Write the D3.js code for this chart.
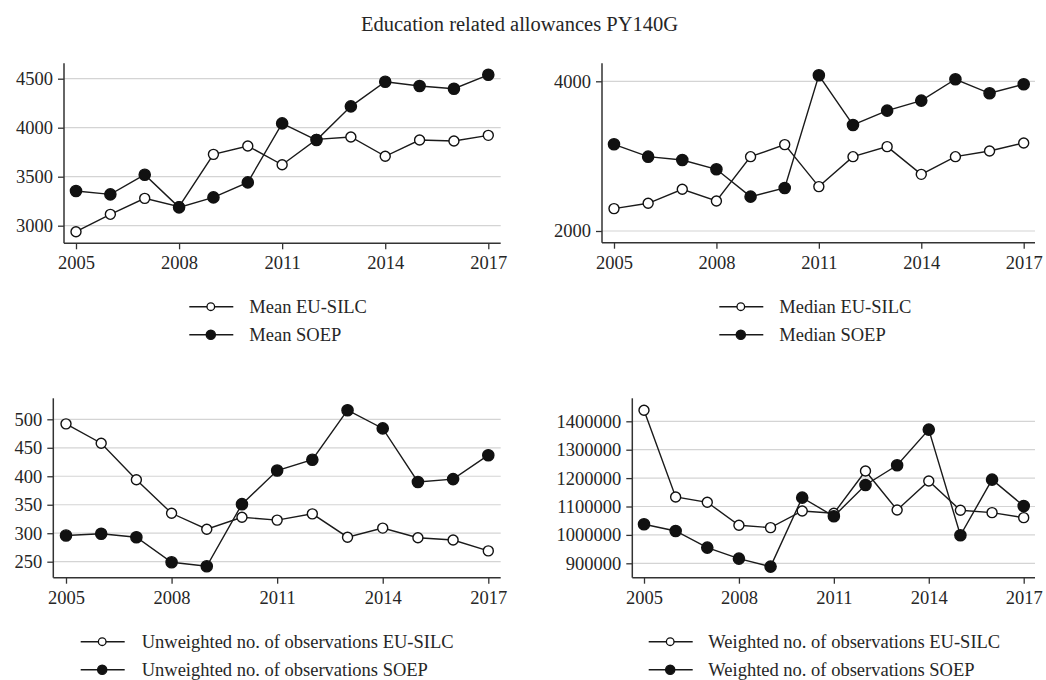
<!DOCTYPE html>
<html>
<head>
<meta charset="utf-8">
<script src="https://cdn.jsdelivr.net/npm/d3@7"></script>
<style>
  html, body { margin: 0; padding: 0; background: #fff; }
  svg { display: block; }
  text { font-family: "Liberation Serif", "Times New Roman", serif; fill: #262626; }
</style>
</head>
<body>
<svg id="chart" width="1046" height="680"></svg>
<script>
// ---------- data ----------
const title = "Education related allowances PY140G";
const years = [2005, 2006, 2007, 2008, 2009, 2010, 2011, 2012, 2013, 2014, 2015, 2016, 2017];
const yearTicks = [2005, 2008, 2011, 2014, 2017];

const meanEU   = [2939, 3116, 3279, 3194, 3728, 3813, 3622, 3881, 3905, 3708, 3874, 3864, 3922];
const meanSOEP = [3354, 3320, 3520, 3187, 3289, 3442, 4044, 3874, 4218, 4469, 4425, 4398, 4540];
const meanTicks = [3000, 3500, 4000, 4500];
const meanLabels = ["Mean EU-SILC", "Mean SOEP"];

const medianEU   = [2299, 2370, 2557, 2401, 2993, 3154, 2593, 2993, 3127, 2757, 2993, 3069, 3176];
const medianSOEP = [3158, 2993, 2949, 2824, 2459, 2575, 4080, 3417, 3608, 3742, 4027, 3840, 3960];
const medianTicks = [2000, 4000];
const medianLabels = ["Median EU-SILC", "Median SOEP"];

const unwEU   = [492, 458, 394, 335, 307, 328, 323, 334, 293, 309, 292, 288, 269];
const unwSOEP = [296, 299, 293, 249, 242, 351, 410, 429, 516, 484, 390, 395, 437];
const unwTicks = [250, 300, 350, 400, 450, 500];
const unwLabels = ["Unweighted no. of observations EU-SILC", "Unweighted no. of observations SOEP"];

const wEU   = [1438700, 1133600, 1114800, 1033800, 1025600, 1084300, 1076000, 1225100, 1087800, 1189900, 1086600, 1078400, 1060800];
const wSOEP = [1037300, 1013900, 955200, 916400, 888300, 1131200, 1065500, 1175800, 1245100, 1370700, 998600, 1194600, 1101900];
const wTicks = [900000, 1000000, 1100000, 1200000, 1300000, 1400000];
const wLabels = ["Weighted no. of observations EU-SILC", "Weighted no. of observations SOEP"];

// ---------- layout ----------
const FS = 18.5;
const svg = d3.select("#chart");

svg.append("text")
  .attr("x", 519.5).attr("y", 31)
  .attr("text-anchor", "middle")
  .style("font-size", "20.5px")
  .text(title);

const panels = [
  { eu: meanEU, soep: meanSOEP, ticks: meanTicks, labels: meanLabels,
    axisX: 64, x0: 76, x1: 488.3, right: 500.7, top: 63.3, bottom: 243.3,
    yA: 3000, pA: 225.7, yB: 4000, pB: 127.7,
    legX: 189.3, legTextX: 249.3, legY: 306.7 },
  { eu: medianEU, soep: medianSOEP, ticks: medianTicks, labels: medianLabels,
    axisX: 602, x0: 614, x1: 1023.7, right: 1035, top: 63.3, bottom: 242.7,
    yA: 2000, pA: 231, yB: 4000, pB: 81.3,
    legX: 719.3, legTextX: 779.3, legY: 306.7 },
  { eu: unwEU, soep: unwSOEP, ticks: unwTicks, labels: unwLabels,
    axisX: 53.3, x0: 66, x1: 488.3, right: 500.7, top: 398.3, bottom: 577.7,
    yA: 250, pA: 561.7, yB: 500, pB: 419.3,
    legX: 80.7, legTextX: 141.7, legY: 641.7 },
  { eu: wEU, soep: wSOEP, ticks: wTicks, labels: wLabels,
    axisX: 632.3, x0: 644, x1: 1023.7, right: 1035, top: 398.3, bottom: 577.7,
    yA: 900000, pA: 563.3, yB: 1400000, pB: 421.3,
    legX: 648.7, legTextX: 708.3, legY: 641.7 }
];

const R = 5;

panels.forEach(p => {
  const g = svg.append("g");
  const x = d3.scaleLinear().domain([years[0], years[years.length - 1]]).range([p.x0, p.x1]);
  // linear scale anchored to two tick positions, extended to plot region
  const k = (p.pB - p.pA) / (p.yB - p.yA);
  const yTop = p.yA + (p.top - p.pA) / k;
  const yBot = p.yA + (p.bottom - p.pA) / k;
  const y = d3.scaleLinear().domain([yBot, yTop]).range([p.bottom, p.top]);

  // gridlines
  g.selectAll(".grid").data(p.ticks).join("line")
    .attr("x1", p.axisX).attr("x2", p.right)
    .attr("y1", d => y(d)).attr("y2", d => y(d))
    .attr("stroke", "#d4d4d4").attr("stroke-width", 1.2);

  // y axis
  const yAxis = d3.axisLeft(y).tickValues(p.ticks).tickSize(6).tickPadding(5).tickFormat(d3.format("d"));
  const ya = g.append("g").attr("transform", `translate(${p.axisX},0)`).call(yAxis);
  ya.select(".domain").remove();
  ya.append("line").attr("x1", 0).attr("x2", 0).attr("y1", p.top).attr("y2", p.bottom)
    .attr("stroke", "#333").attr("stroke-width", 1.5);
  ya.selectAll(".tick line").attr("stroke", "#333").attr("stroke-width", 1.3);
  ya.selectAll(".tick text").style("font-size", FS + "px").style("font-family", "Liberation Serif, serif").attr("fill", "#262626");

  // x axis
  const xAxis = d3.axisBottom(x).tickValues(yearTicks).tickSize(6).tickPadding(7).tickFormat(d3.format("d"));
  const xa = g.append("g").attr("transform", `translate(0,${p.bottom})`).call(xAxis);
  xa.select(".domain").remove();
  xa.append("line").attr("x1", p.axisX).attr("x2", p.right).attr("y1", 0).attr("y2", 0)
    .attr("stroke", "#333").attr("stroke-width", 1.5);
  xa.selectAll(".tick line").attr("stroke", "#333").attr("stroke-width", 1.3);
  xa.selectAll(".tick text").style("font-size", FS + "px").style("font-family", "Liberation Serif, serif").attr("fill", "#262626");

  const line = d3.line().x((d, i) => x(years[i])).y(d => y(d));

  [[p.eu, false], [p.soep, true]].forEach(([vals, filled]) => {
    g.append("path").datum(vals)
      .attr("d", line).attr("fill", "none")
      .attr("stroke", "#1a1a1a").attr("stroke-width", 1.4);
    g.selectAll(null).data(vals).join("circle")
      .attr("cx", (d, i) => x(years[i])).attr("cy", d => y(d))
      .attr("r", filled ? R + 0.6 : R)
      .attr("fill", filled ? "#111" : "#fff")
      .attr("stroke", "#111").attr("stroke-width", 1.4);
  });

  // legend
  [false, true].forEach((filled, i) => {
    const ly = p.legY + i * 28;
    g.append("line").attr("x1", p.legX).attr("x2", p.legX + 44)
      .attr("y1", ly).attr("y2", ly).attr("stroke", "#1a1a1a").attr("stroke-width", 1.5);
    g.append("circle").attr("cx", p.legX + 21.5).attr("cy", ly)
      .attr("r", filled ? 4.6 : 3.8)
      .attr("fill", filled ? "#111" : "#fff").attr("stroke", "#111").attr("stroke-width", 1.3);
    g.append("text").attr("x", p.legTextX).attr("y", ly).attr("dy", "0.33em")
      .style("font-size", FS + "px").text(p.labels[i]);
  });
});
</script>
</body>
</html>
